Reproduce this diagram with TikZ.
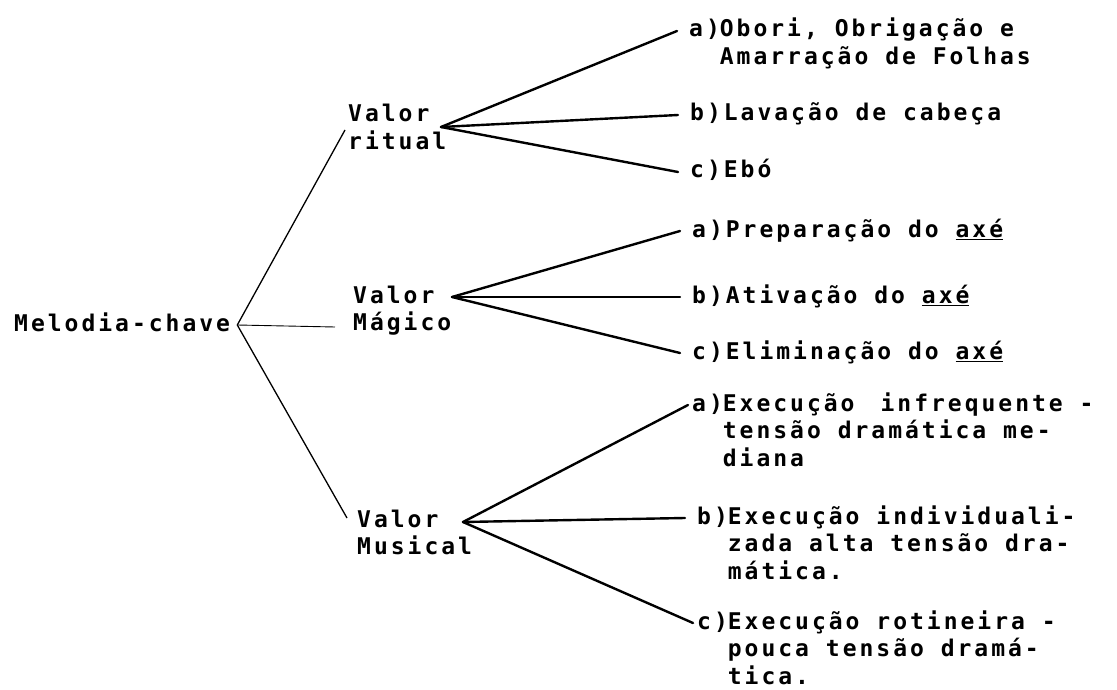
\documentclass[tikz,border=0pt]{standalone}
\usepackage{fontspec}
\setmainfont{DejaVu Sans Mono}[BoldFont={DejaVu Sans Mono Bold}, LetterSpace=13]
\usetikzlibrary{positioning}

\newcommand{\lines}[1]{\begin{tabular}[t]{@{}l@{}}#1\end{tabular}}

\tikzset{
  lbl/.style={anchor=base west, inner sep=0pt,
    font=\fontsize{23}{27.5}\selectfont\bfseries},
  trunk/.style={line width=1.3pt},
  branch/.style={line width=2.4pt, line cap=round},
}

\begin{document}
\begin{tikzpicture}[x=1pt, y=-1pt]
  \useasboundingbox (0,0) rectangle (1117,690);

  % root
  \node[lbl] (melodia) at (14,331) {Melodia-chave};
  \coordinate (root) at ([shift={(7,-6)}]melodia.base east);

  % the three values
  \node[lbl] (ritual) at (348,122) {\lines{Valor\\ritual}};
  \node[lbl] (magico) at (353,303) {\lines{Valor\\Mágico}};
  \node[lbl] (musical) at (357,527) {\lines{Valor\\Musical}};

  \coordinate (rhub) at (441,127);
  \coordinate (mhub) at (452,297);
  \coordinate (shub) at (463,522);

  % items
  \node[lbl] (ra) at (689,37) {a)\lines{Obori, Obrigação e\\Amarração de Folhas}};
  \node[lbl] (rb) at (690,121) {b)Lavação de cabeça};
  \node[lbl] (rc) at (690,178) {c)Ebó};

  \node[lbl] (ma) at (692,237) {a)Preparação do \underline{axé}};
  \node[lbl] (mb) at (692,303) {b)Ativação do \underline{axé}};
  \node[lbl] (mc) at (692,359) {c)Eliminação do \underline{axé}};

  \node[lbl] (sa) at (692,411) {a)\lines{Execução\hspace{0.4em} infrequente -\\tensão dramática me-\\diana}};
  \node[lbl] (sb) at (697,524) {b)\lines{Execução individuali-\\zada alta tensão dra-\\mática.}};
  \node[lbl] (sc) at (697,629) {c)\lines{Execução rotineira -\\pouca tensão dramá-\\tica.}};

  % connectors
  \draw[trunk] (root) -- ([shift={(-3,8)}]ritual.base west);
  \draw[line width=0.9pt] (root) -- ([shift={(-18,24)}]magico.base west);
  \draw[trunk] (root) -- ([shift={(-10,-9)}]musical.base west);

  \draw[branch] (rhub) -- ([shift={(-12,-6)}]ra.base west);
  \draw[branch] (rhub) -- ([shift={(-12,-6)}]rb.base west);
  \draw[branch] (rhub) -- ([shift={(-12,-6)}]rc.base west);

  \draw[branch] (mhub) -- ([shift={(-12,-6)}]ma.base west);
  \draw[branch] (mhub) -- ([shift={(-12,-6)}]mb.base west);
  \draw[branch] (mhub) -- ([shift={(-12,-6)}]mc.base west);

  \draw[branch] (shub) -- ([shift={(-4,-6)}]sa.base west);
  \draw[branch] (shub) -- ([shift={(-12,-6)}]sb.base west);
  \draw[branch] (shub) -- ([shift={(-4,-6)}]sc.base west);
\end{tikzpicture}
\end{document}
